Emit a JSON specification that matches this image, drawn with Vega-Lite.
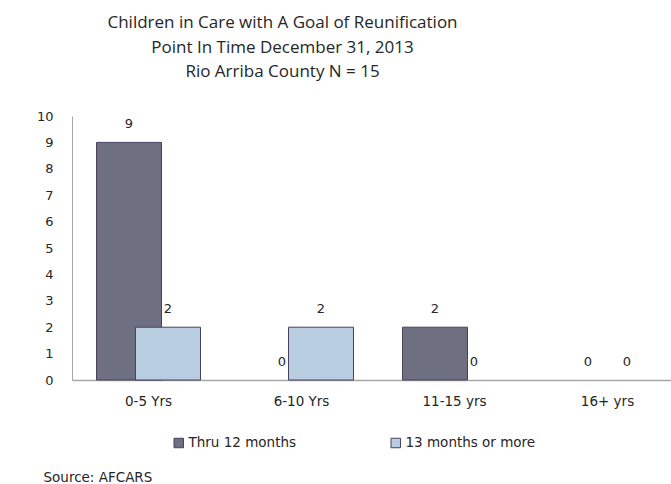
{
  "$schema": "https://vega.github.io/schema/vega-lite/v6.json",
  "autosize": {"type": "none"},
  "padding": {"left": 72, "top": 116, "right": 0, "bottom": 104},
  "width": 599,
  "height": 264,
  "background": "white",
  "title": {
    "text": ["Children in Care with A Goal of Reunification", "Point In Time December 31, 2013", "Rio Arriba County N = 15"],
    "anchor": "middle",
    "frame": "group",
    "dx": -89,
    "offset": 29,
    "font": "Open Sans",
    "fontSize": 17,
    "fontWeight": "normal",
    "color": "#262626",
    "lineHeight": 24.5
  },
  "data": {
    "values": [
      {"age": "0-5 Yrs", "series": "Thru 12 months", "value": 9},
      {"age": "0-5 Yrs", "series": "13 months or more", "value": 2},
      {"age": "6-10 Yrs", "series": "Thru 12 months", "value": 0},
      {"age": "6-10 Yrs", "series": "13 months or more", "value": 2},
      {"age": "11-15 yrs", "series": "Thru 12 months", "value": 2},
      {"age": "11-15 yrs", "series": "13 months or more", "value": 0},
      {"age": "16+ yrs", "series": "Thru 12 months", "value": 0},
      {"age": "16+ yrs", "series": "13 months or more", "value": 0}
    ]
  },
  "encoding": {
    "x": {
      "field": "age",
      "type": "nominal",
      "sort": ["0-5 Yrs", "6-10 Yrs", "11-15 yrs", "16+ yrs"],
      "scale": {"range": [0, 612], "paddingInner": 0, "paddingOuter": 0},
      "axis": {
        "labelAngle": 0,
        "ticks": false,
        "domainColor": "#a6a6a6",
        "domainWidth": 1.5,
        "labelFont": "DejaVu Sans",
        "labelFontSize": 13.5,
        "labelColor": "#262626",
        "labelPadding": 14,
        "title": "Source: AFCARS",
        "titleFont": "DejaVu Sans",
        "titleFontSize": 13.5,
        "titleFontWeight": "normal",
        "titleColor": "#262626",
        "titleX": -29,
        "titleY": 101,
        "titleAlign": "left",
        "titleBaseline": "alphabetic",
        "titleAnchor": "start"
      }
    },
    "y": {
      "field": "value",
      "type": "quantitative",
      "scale": {"domain": [0, 10], "nice": false},
      "axis": {
        "values": [0, 1, 2, 3, 4, 5, 6, 7, 8, 9, 10],
        "ticks": false,
        "grid": false,
        "domainColor": "#a6a6a6",
        "domainWidth": 1,
        "labelFont": "DejaVu Sans",
        "labelFontSize": 13,
        "labelColor": "#262626",
        "labelPadding": 19,
        "title": null
      }
    },
    "color": {
      "field": "series",
      "type": "nominal",
      "scale": {"domain": ["Thru 12 months", "13 months or more"], "range": ["#6f6f82", "#b9cde0"]},
      "legend": {
        "title": null,
        "orient": "none",
        "direction": "horizontal",
        "legendX": 100,
        "legendY": 320,
        "symbolType": "square",
        "symbolSize": 90,
        "symbolStrokeColor": "#4a4060",
        "symbolStrokeWidth": 1,
        "labelFont": "DejaVu Sans",
        "labelFontSize": 13.5,
        "labelColor": "#262626",
        "labelOffset": 3,
        "columnPadding": 92
      }
    }
  },
  "layer": [
    {
      "transform": [{"filter": "datum.series === 'Thru 12 months' && datum.value > 0"}],
      "mark": {"type": "bar", "width": 65, "xOffset": -19.5, "stroke": "#4a4060", "strokeWidth": 1}
    },
    {
      "transform": [{"filter": "datum.series === '13 months or more' && datum.value > 0"}],
      "mark": {"type": "bar", "width": 65, "xOffset": 19.5, "stroke": "#4a4060", "strokeWidth": 1}
    },
    {
      "transform": [{"filter": "datum.series === 'Thru 12 months'"}],
      "mark": {"type": "text", "xOffset": -19.5, "dy": -18, "baseline": "middle", "font": "DejaVu Sans", "fontSize": 13, "color": "#262626"},
      "encoding": {"text": {"field": "value", "type": "quantitative"}, "color": {"value": "#262626"}}
    },
    {
      "transform": [{"filter": "datum.series === '13 months or more'"}],
      "mark": {"type": "text", "xOffset": 19.5, "dy": -18, "baseline": "middle", "font": "DejaVu Sans", "fontSize": 13, "color": "#262626"},
      "encoding": {"text": {"field": "value", "type": "quantitative"}, "color": {"value": "#262626"}}
    }
  ],
  "config": {"view": {"stroke": null}}
}
